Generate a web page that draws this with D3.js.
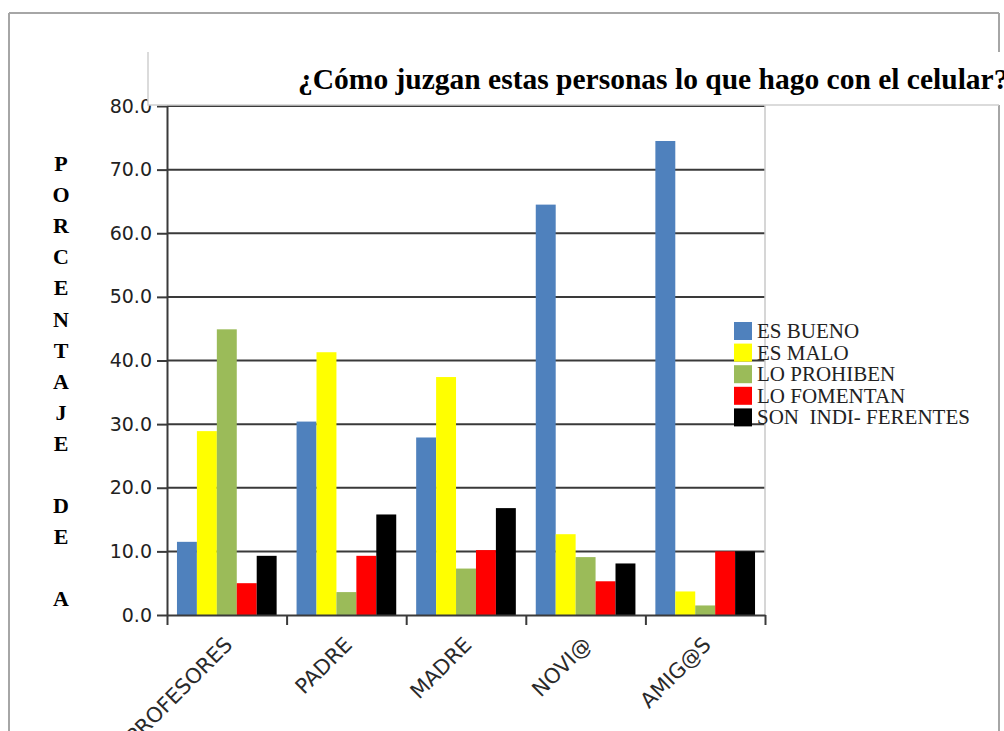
<!DOCTYPE html>
<html>
<head>
<meta charset="utf-8">
<script src="https://cdn.jsdelivr.net/npm/d3@7"></script>
<style>
	body { margin: 0; background: #fff; }
	svg { display: block; }
</style>
</head>
<body>
<svg id="chart" width="1004" height="731"></svg>
<script>
// data
const categories = ['PROFESORES', 'PADRE', 'MADRE', 'NOVI@', 'AMIG@S'];
const seriesNames = ['ES BUENO', 'ES MALO', 'LO PROHIBEN', 'LO FOMENTAN', 'SON  INDI- FERENTES'];
const esBueno = [11.5, 30.4, 27.9, 64.5, 74.5];
const esMalo = [28.9, 41.3, 37.4, 12.7, 3.7];
const loProhiben = [44.9, 3.6, 7.3, 9.1, 1.5];
const loFomentan = [5.0, 9.3, 10.2, 5.3, 10.0];
const sonIndiferentes = [9.3, 15.8, 16.8, 8.1, 10.0];
const yTicks = [0, 10, 20, 30, 40, 50, 60, 70, 80];
const title = '¿Cómo juzgan estas personas lo que hago con el celular?';
const yLabel = 'PORCENTAJE DE A';

const colors = ['#4f81bd', '#ffff00', '#9bbb59', '#ff0000', '#000000'];
const seriesValues = [esBueno, esMalo, loProhiben, loFomentan, sonIndiferentes];

const svg = d3.select('#chart');

const plotLeft = 167, plotRight = 765, plotTop = 106, plotBottom = 615;

const x0 = d3.scaleBand()
	.domain(categories)
	.range([plotLeft, plotRight])
	.paddingInner(1 / 6)
	.paddingOuter(1 / 12);

const x1 = d3.scaleBand()
	.domain(seriesNames)
	.range([0, x0.bandwidth()]);

const y = d3.scaleLinear()
	.domain([0, 80])
	.range([plotBottom, plotTop]);

const color = d3.scaleOrdinal().domain(seriesNames).range(colors);

// outer frame
const frame = svg.append('g')
	.attr('stroke', '#a6a6a6')
	.attr('stroke-width', 2);
frame.append('line').attr('x1', 9).attr('x2', 999).attr('y1', 13).attr('y2', 13);
frame.append('line').attr('x1', 9).attr('x2', 9).attr('y1', 13).attr('y2', 731);
frame.append('line').attr('x1', 999).attr('x2', 999).attr('y1', 13).attr('y2', 731);

// gridlines
svg.append('g')
	.attr('class', 'grid')
	.selectAll('line')
	.data(yTicks.filter(t => t > 0))
	.enter().append('line')
		.attr('x1', plotLeft)
		.attr('x2', plotRight)
		.attr('y1', d => y(d))
		.attr('y2', d => y(d))
		.attr('stroke', '#3a3a3a')
		.attr('stroke-width', 2);

// plot area right border
svg.append('line')
	.attr('x1', plotRight).attr('x2', plotRight)
	.attr('y1', plotTop - 1).attr('y2', plotBottom)
	.attr('stroke', '#c8c8c8')
	.attr('stroke-width', 1.5);

// bars
const rows = categories.map((c, i) => ({
	category: c,
	values: seriesNames.map((s, j) => ({ key: s, value: seriesValues[j][i] }))
}));

svg.append('g')
	.attr('class', 'bars')
	.selectAll('g')
	.data(rows)
	.enter().append('g')
		.attr('transform', d => 'translate(' + x0(d.category) + ',0)')
	.selectAll('rect')
	.data(d => d.values)
	.enter().append('rect')
		.attr('x', d => x1(d.key))
		.attr('y', d => y(d.value))
		.attr('width', x1.bandwidth())
		.attr('height', d => y(0) - y(d.value))
		.attr('fill', d => color(d.key));

// y axis
const yAxis = svg.append('g')
	.attr('transform', 'translate(' + plotLeft + ',0)')
	.call(d3.axisLeft(y)
		.tickValues(yTicks)
		.tickFormat(d3.format('.1f'))
		.tickSize(10)
		.tickSizeOuter(0)
		.tickPadding(5));

// x axis, ticks between the groups
const xEdges = d3.scaleLinear().domain([0, categories.length]).range([plotLeft, plotRight]);
const xAxis = svg.append('g')
	.attr('transform', 'translate(0,' + plotBottom + ')')
	.call(d3.axisBottom(xEdges)
		.ticks(categories.length)
		.tickFormat('')
		.tickSize(10)
		.tickSizeOuter(0));

[yAxis, xAxis].forEach(ax => {
	ax.select('.domain').attr('stroke', '#3a3a3a').attr('stroke-width', 2);
	ax.selectAll('.tick line').attr('stroke', '#3a3a3a').attr('stroke-width', 2);
	ax.selectAll('text')
		.attr('font-family', 'DejaVu Sans, sans-serif')
		.attr('font-size', '19px')
		.attr('fill', '#222');
});

// category labels
svg.append('g')
	.attr('class', 'xlabels')
	.selectAll('text')
	.data(categories)
	.enter().append('text')
		.attr('transform', d => 'translate(' + (x0(d) + x0.bandwidth() / 2 + 7) + ',646) rotate(-45)')
		.attr('text-anchor', 'end')
		.attr('font-family', 'DejaVu Sans, sans-serif')
		.attr('font-size', '21px')
		.attr('fill', '#2a2a2a')
		.text(d => d);

// legend
const legend = svg.append('g')
	.attr('class', 'legend')
	.selectAll('g')
	.data(seriesNames)
	.enter().append('g')
		.attr('transform', (d, i) => 'translate(734,' + (322 + i * 21.6) + ')');

legend.append('rect')
	.attr('width', 18)
	.attr('height', 18)
	.attr('fill', d => color(d));

legend.append('text')
	.attr('x', 23)
	.attr('y', 16)
	.attr('font-family', 'Liberation Serif, Times New Roman, serif')
	.attr('font-size', '21px')
	.attr('fill', '#222')
	.style('white-space', 'pre')
	.text(d => d);

// title box (sits on top of the frame and the 80.0 label)
svg.append('rect')
	.attr('x', 148).attr('y', 52)
	.attr('width', 856).attr('height', 53)
	.attr('fill', '#fff');
svg.append('path')
	.attr('d', 'M148,52 V105 H999')
	.attr('fill', 'none')
	.attr('stroke', '#cfcfcf')
	.attr('stroke-width', 1.5);

svg.append('text')
	.attr('x', 298)
	.attr('y', 89)
	.attr('font-family', 'Liberation Serif, Times New Roman, serif')
	.attr('font-weight', 'bold')
	.attr('font-size', '29.5px')
	.attr('fill', '#000')
	.text(title);

// vertical axis title, one letter per line
svg.append('g')
	.attr('class', 'ylabel')
	.selectAll('text')
	.data(yLabel.split(''))
	.enter().append('text')
		.attr('x', 61)
		.attr('y', (d, i) => 171 + i * 31.1)
		.attr('text-anchor', 'middle')
		.attr('font-family', 'Liberation Serif, Times New Roman, serif')
		.attr('font-weight', 'bold')
		.attr('font-size', '22px')
		.attr('fill', '#000')
		.text(d => d);
</script>
</body>
</html>
